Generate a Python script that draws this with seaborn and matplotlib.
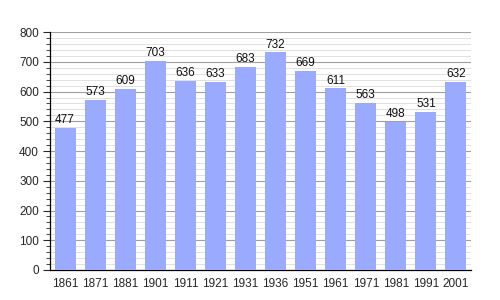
import matplotlib
matplotlib.use("Agg")
import matplotlib.pyplot as plt
import seaborn as sns
import pandas as pd
from matplotlib.ticker import MultipleLocator

years = ["1861", "1871", "1881", "1901", "1911", "1921", "1931", "1936", "1951", "1961", "1971", "1981", "1991", "2001"]
population = [477, 573, 609, 703, 636, 633, 683, 732, 669, 611, 563, 498, 531, 632]

df = pd.DataFrame({"year": years, "pop": population})

sns.set_style("white")
plt.rcParams['font.family'] = ['Liberation Sans', 'DejaVu Sans']

fig = plt.figure(figsize=(5, 3), dpi=100)
ax = fig.add_axes([0.1, 0.1, 0.842, 0.793])

sns.barplot(data=df, x="year", y="pop", color="#9aabff", saturation=1, width=0.7,
            linewidth=0, ax=ax, zorder=3)

ax.set_ylim(0, 800)
ax.set_xlim(-0.5, len(years) - 0.5)
ax.yaxis.set_major_locator(MultipleLocator(100))
ax.yaxis.set_minor_locator(MultipleLocator(20))
ax.grid(which="major", axis="y", color="#a0a0a0", linewidth=0.8, zorder=0)
ax.grid(which="minor", axis="y", color="#dcdcdc", linewidth=0.6, zorder=0)
ax.set_axisbelow(True)

for i, v in enumerate(population):
    ax.text(i, v + 6, str(v), ha="center", va="bottom", fontsize=8.5, color="#111111", zorder=4)

for s in ["top", "right"]:
    ax.spines[s].set_visible(False)
for s in ["left", "bottom"]:
    ax.spines[s].set_color("black")
    ax.spines[s].set_linewidth(0.9)

ax.tick_params(axis="y", which="major", left=True, length=5, width=0.8, labelsize=8.5, pad=3)
ax.tick_params(axis="y", which="minor", left=True, length=3, width=0.6)
ax.tick_params(axis="x", bottom=False, labelsize=8.5, pad=2)
ax.set_xlabel("")
ax.set_ylabel("")

fig.savefig("out.png", dpi=100)
